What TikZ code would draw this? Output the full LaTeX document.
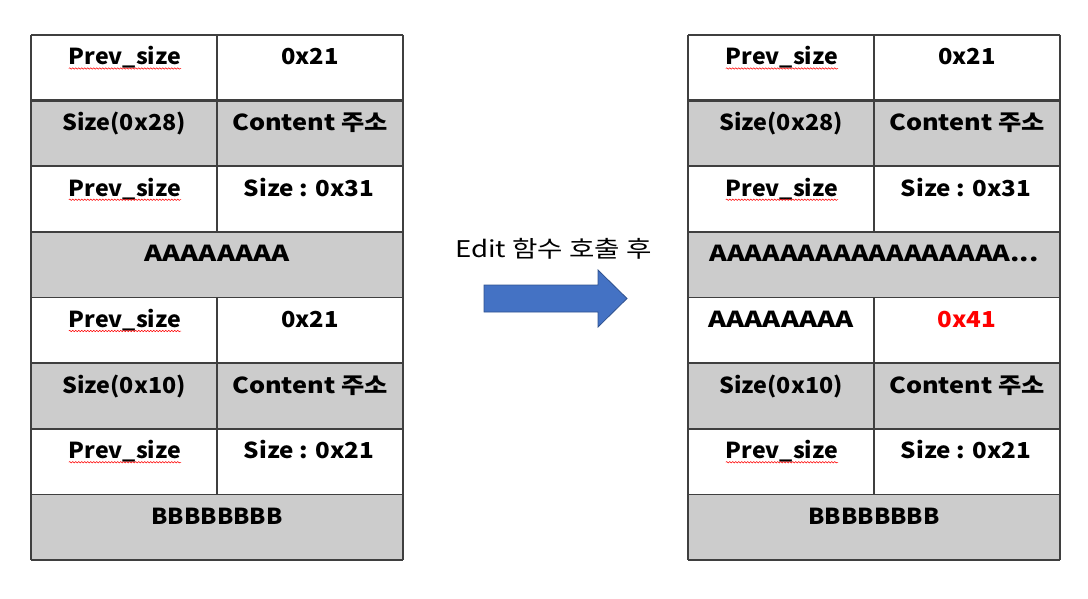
\documentclass[tikz,border=0pt]{standalone}
\usepackage{fontspec}
\setmainfont{Noto Sans CJK KR}
\usetikzlibrary{decorations.pathmorphing}
\definecolor{cellgray}{HTML}{CCCCCC}
\definecolor{gridline}{HTML}{3F3F3F}
\definecolor{arrowfill}{HTML}{4472C4}
\definecolor{arrowedge}{HTML}{2F528F}
\tikzset{
  cell/.style={font=\bfseries\fontsize{22}{26}\selectfont, anchor=base, inner sep=0pt},
  grid/.style={draw=gridline, line width=1.6pt},
  spell/.style={draw=red, line width=0.5pt, decorate, decoration={snake, amplitude=0.7pt, segment length=3pt}}
}
\newcommand{\ry}[1]{35+65.625*#1}
\newcommand{\wx}[2]{\scalebox{#1}[1]{#2}}
\begin{document}
\begin{tikzpicture}[x=1pt,y=-1pt]
\useasboundingbox (0,0) rectangle (1088,599);
% gray fills
\foreach \r in {1,3,5,7}{
  \fill[cellgray] (31,{\ry{\r}}) rectangle (403,{\ry{(\r+1)}});
  \fill[cellgray] (688,{\ry{\r}}) rectangle (1060,{\ry{(\r+1)}});
}
% grid lines
\foreach \r in {0,...,8}{
  \draw[grid] (31,{\ry{\r}}) -- (403,{\ry{\r}});
  \draw[grid] (688,{\ry{\r}}) -- (1060,{\ry{\r}});
}
\draw[grid, line width=2.6pt] (31,{\ry{1}}) -- (403,{\ry{1}});
\draw[grid, line width=2.6pt] (688,{\ry{1}}) -- (1060,{\ry{1}});
\foreach \x in {31,403,688,1060}{
  \draw[grid] (\x,{\ry{0}}) -- (\x,{\ry{8}});
}
\foreach \x in {217,874}{
  \draw[grid] (\x,{\ry{0}}) -- (\x,{\ry{3}});
  \draw[grid] (\x,{\ry{4}}) -- (\x,{\ry{7}});
}
% left texts
\node[cell] (L0a) at (125,{\ry{0}+30}) {\wx{1.05}{Prev\_size}};
\node[cell] (L0b) at (310,{\ry{0}+30}) {\wx{1.08}{0x21}};
\node[cell] (L1a) at (124,{\ry{1}+30}) {\wx{1.06}{Size(0x28)}};
\node[cell] (L1b) at (310,{\ry{1}+30}) {\wx{1.15}{Content 주소}};
\node[cell] (L2a) at (125,{\ry{2}+30}) {\wx{1.05}{Prev\_size}};
\node[cell] (L2b) at (309,{\ry{2}+30}) {\wx{1.10}{Size : 0x31}};
\node[cell] (L3)  at (217,{\ry{3}+30}) {\wx{1.25}{AAAAAAAA}};
\node[cell] (L4a) at (125,{\ry{4}+30}) {\wx{1.05}{Prev\_size}};
\node[cell] (L4b) at (310,{\ry{4}+30}) {\wx{1.08}{0x21}};
\node[cell] (L5a) at (124,{\ry{5}+30}) {\wx{1.06}{Size(0x10)}};
\node[cell] (L5b) at (310,{\ry{5}+30}) {\wx{1.15}{Content 주소}};
\node[cell] (L6a) at (125,{\ry{6}+30}) {\wx{1.05}{Prev\_size}};
\node[cell] (L6b) at (309,{\ry{6}+30}) {\wx{1.10}{Size : 0x21}};
\node[cell] (L7)  at (217,{\ry{7}+30}) {\wx{1.07}{BBBBBBBB}};
% right texts
\node[cell] (R0a) at (782,{\ry{0}+30}) {\wx{1.05}{Prev\_size}};
\node[cell] (R0b) at (967,{\ry{0}+30}) {\wx{1.08}{0x21}};
\node[cell] (R1a) at (781,{\ry{1}+30}) {\wx{1.06}{Size(0x28)}};
\node[cell] (R1b) at (967,{\ry{1}+30}) {\wx{1.15}{Content 주소}};
\node[cell] (R2a) at (782,{\ry{2}+30}) {\wx{1.05}{Prev\_size}};
\node[cell] (R2b) at (966,{\ry{2}+30}) {\wx{1.10}{Size : 0x31}};
\node[cell] (R3)  at (874,{\ry{3}+30}) {\wx{1.22}{AAAAAAAAAAAAAAAAA...}};
\node[cell] (R4a) at (781,{\ry{4}+30}) {\wx{1.25}{AAAAAAAA}};
\node[cell, text=red] (R4b) at (967,{\ry{4}+30}) {\wx{1.10}{0x41}};
\node[cell] (R5a) at (781,{\ry{5}+30}) {\wx{1.06}{Size(0x10)}};
\node[cell] (R5b) at (967,{\ry{5}+30}) {\wx{1.15}{Content 주소}};
\node[cell] (R6a) at (782,{\ry{6}+30}) {\wx{1.05}{Prev\_size}};
\node[cell] (R6b) at (966,{\ry{6}+30}) {\wx{1.10}{Size : 0x21}};
\node[cell] (R7)  at (874,{\ry{7}+30}) {\wx{1.07}{BBBBBBBB}};
% spell-check underlines
\foreach \n in {L0a,L2a,L4a,L6a,R0a,R2a,R6a}{
  \draw[spell] ([yshift=-3.5pt]\n.base west) -- ([yshift=-3.5pt]\n.base east);
}
% caption and arrow
\node[font=\fontsize{23}{27}\selectfont, anchor=base, inner sep=0pt] (cap) at (553.5,258) {\wx{1.2}{Edit 함수 호출 후}};
\draw[fill=arrowfill, draw=arrowedge, line width=0.8pt]
  (484,285) -- (598,285) -- (598,270) -- (627,298.5) -- (598,327) -- (598,312) -- (484,312) -- cycle;
\end{tikzpicture}
\end{document}
